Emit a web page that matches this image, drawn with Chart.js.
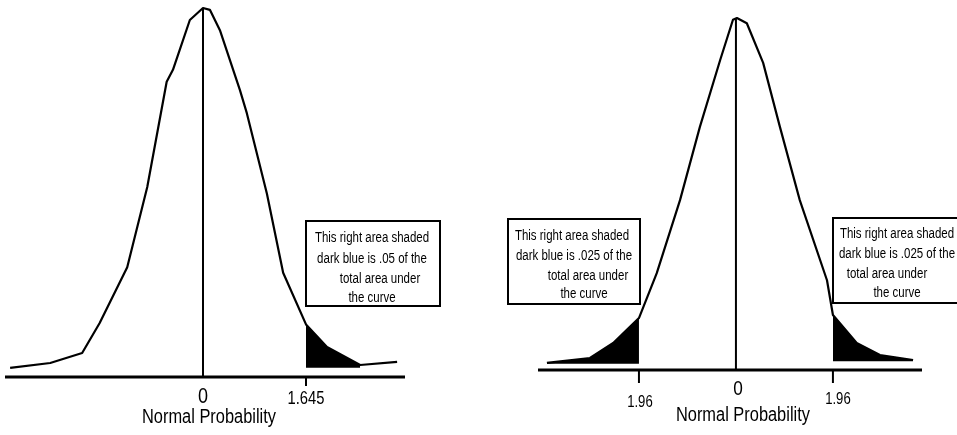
<!DOCTYPE html>
<html><head><meta charset="utf-8">
<script src="https://cdn.jsdelivr.net/npm/chart.js@4.4.1/dist/chart.umd.min.js"></script>
<style>
html,body{margin:0;padding:0;background:#fff;}
#wrap{position:relative;width:957px;height:435px;overflow:hidden;background:#fff;}
canvas{position:absolute;top:0;}
</style></head><body>
<div id="wrap">
<canvas id="left" width="478" height="435" style="left:0"></canvas>
<canvas id="right" width="479" height="435" style="left:478px"></canvas>
</div>
<script>
// ---- data (z values and curve heights) ----
const leftZ       = [-3.08, -2.44, -1.93, -1.65, -1.21, -0.89, -0.58, -0.48, -0.21, 0, 0.11, 0.27, 0.59, 0.70, 1.02, 1.28, 1.645, 1.98, 2.51, 3.10];
const leftDensity = [0.0098, 0.0152, 0.026, 0.0585, 0.119, 0.206, 0.320, 0.333, 0.387, 0.400, 0.398, 0.376, 0.311, 0.286, 0.199, 0.113, 0.057, 0.0325, 0.013, 0.0163];
const leftShaded  = [[1.645, 2.51]];
const leftTickValues = [0, 1.645];
const leftTickLabels = ['0', '1.645'];

const rightZ       = [-3.82, -2.95, -2.48, -1.96, -1.60, -1.13, -0.73, -0.32, -0.06, 0.02, 0.22, 0.55, 0.89, 1.29, 1.84, 1.96, 2.44, 2.91, 3.58];
const rightDensity = [0.008, 0.0136, 0.0307, 0.059, 0.110, 0.193, 0.276, 0.352, 0.398, 0.400, 0.394, 0.349, 0.276, 0.193, 0.102, 0.0625, 0.0307, 0.017, 0.0114];
const rightShaded  = [[-3.82, -1.96], [1.96, 3.58]];
const rightTickValues = [-1.96, 0, 1.96];
const rightTickLabels = ['1.96', '0', '1.96'];

const axisTitle = 'Normal Probability';
const leftNote  = ['This right area shaded', 'dark blue is .05 of the', 'total area under', 'the curve'];
const rightNote = ['This right area shaded', 'dark blue is .025 of the', 'total area under', 'the curve'];

// ---- helpers ----
const FONT = '"Liberation Sans",Arial,sans-serif';
const NARROW = 0.82;
function pts(z, d) { return z.map((v, i) => ({x: v, y: d[i]})); }
function tail(z, d, r) { return pts(z, d).filter(p => p.x >= r[0] - 1e-9 && p.x <= r[1] + 1e-9); }
function narrowText(ctx, text, x, y, size) {
  ctx.save();
  ctx.font = size + 'px ' + FONT;
  ctx.textAlign = 'center';
  ctx.textBaseline = 'alphabetic';
  ctx.translate(x, y);
  ctx.scale(NARROW, 1);
  ctx.fillText(text, 0, 0);
  ctx.restore();
}

const decor = {
  id: 'decor',
  afterDatasetsDraw(chart, args, o) {
    const ctx = chart.ctx, xs = chart.scales.x, ys = chart.scales.y;
    const y0 = ys.getPixelForValue(0);
    ctx.save();
    ctx.strokeStyle = '#000';
    ctx.fillStyle = '#000';
    // baseline
    ctx.lineWidth = 3;
    ctx.beginPath();
    ctx.moveTo(chart.chartArea.left, y0);
    ctx.lineTo(chart.chartArea.right, y0);
    ctx.stroke();
    // ticks + labels
    o.ticks.forEach((t, i) => {
      const s = o.tickStyle[i];
      const x = xs.getPixelForValue(t);
      if (s.tick) {
        ctx.lineWidth = 2;
        ctx.beginPath();
        ctx.moveTo(x, y0);
        ctx.lineTo(x, y0 + s.tick);
        ctx.stroke();
      }
      narrowText(ctx, o.labels[i], x + s.dx, y0 + s.dy, s.size);
    });
    // axis title
    narrowText(ctx, o.title.text, xs.getPixelForValue(0) + o.title.dx, y0 + o.title.dy, o.title.size);
    // note boxes
    o.boxes.forEach(b => {
      ctx.fillStyle = '#fff';
      ctx.fillRect(b.x, b.y, b.w, b.h);
      ctx.lineWidth = 2;
      ctx.strokeStyle = '#000';
      ctx.strokeRect(b.x, b.y, b.w, b.h);
      ctx.fillStyle = '#000';
      b.lines.forEach((ln, i) => narrowText(ctx, ln, b.cx + (b.dxs ? b.dxs[i] : 0), b.y + b.baselines[i], 14));
    });
    ctx.restore();
  }
};

function makeChart(id, z, d, shaded, fillLevels, xmin, xmax, padding, decorOpts) {
  const peak = Math.max(...d);
  const datasets = [];
  shaded.forEach((r, i) => datasets.push({
    data: tail(z, d, r), borderWidth: 0, backgroundColor: '#000', pointRadius: 0,
    fill: {value: fillLevels[i]}, tension: 0, clip: false
  }));
  datasets.push({
    data: pts(z, d), borderColor: '#000', borderWidth: 2.2, pointRadius: 0, fill: false,
    tension: 0, clip: false, borderJoinStyle: 'round'
  });
  datasets.push({
    data: [{x: 0, y: 0}, {x: 0, y: peak}], borderColor: '#000', borderWidth: 2, pointRadius: 0,
    fill: false, clip: false
  });
  return new Chart(document.getElementById(id), {
    type: 'line',
    data: {datasets},
    options: {
      responsive: false, animation: false, devicePixelRatio: 1,
      layout: {padding},
      scales: {
        x: {type: 'linear', min: xmin, max: xmax, display: false},
        y: {min: 0, max: 0.4, display: false}
      },
      plugins: {legend: {display: false}, tooltip: {enabled: false}, decor: decorOpts}
    },
    plugins: [decor]
  });
}

makeChart('left', leftZ, leftDensity, leftShaded, [0.01], -3.162, 3.226,
  {left: 5, right: 73, top: 8, bottom: 58},
  {
    ticks: leftTickValues, labels: leftTickLabels,
    tickStyle: [{size: 22, dx: 0, dy: 26, tick: 0}, {size: 18, dx: 0, dy: 27, tick: 9}],
    title: {text: axisTitle, size: 20, dx: 6, dy: 46},
    boxes: [{x: 306, y: 221, w: 134, h: 85, cx: 372, lines: leftNote, baselines: [21, 42, 62, 81], dxs: [0, 0, 8, 0]}]
  });

makeChart('right', rightZ, rightDensity, rightShaded, [0.007, 0.01], -4.0, 3.76,
  {left: 60, right: 35, top: 18, bottom: 65},
  {
    ticks: rightTickValues, labels: rightTickLabels,
    tickStyle: [{size: 16, dx: 1, dy: 37, tick: 13}, {size: 21, dx: 2, dy: 25, tick: 0}, {size: 16, dx: 5, dy: 34, tick: 13}],
    title: {text: axisTitle, size: 20, dx: 7, dy: 51},
    boxes: [
      {x: 30, y: 219, w: 132, h: 85, cx: 96, lines: rightNote, baselines: [21, 41, 61, 79], dxs: [-2, 0, 14, 10]},
      {x: 355, y: 218, w: 140, h: 85, cx: 419, lines: rightNote, baselines: [20, 40, 60, 79], dxs: [0, 0, -10, 0]}
    ]
  });
</script>
</body></html>
